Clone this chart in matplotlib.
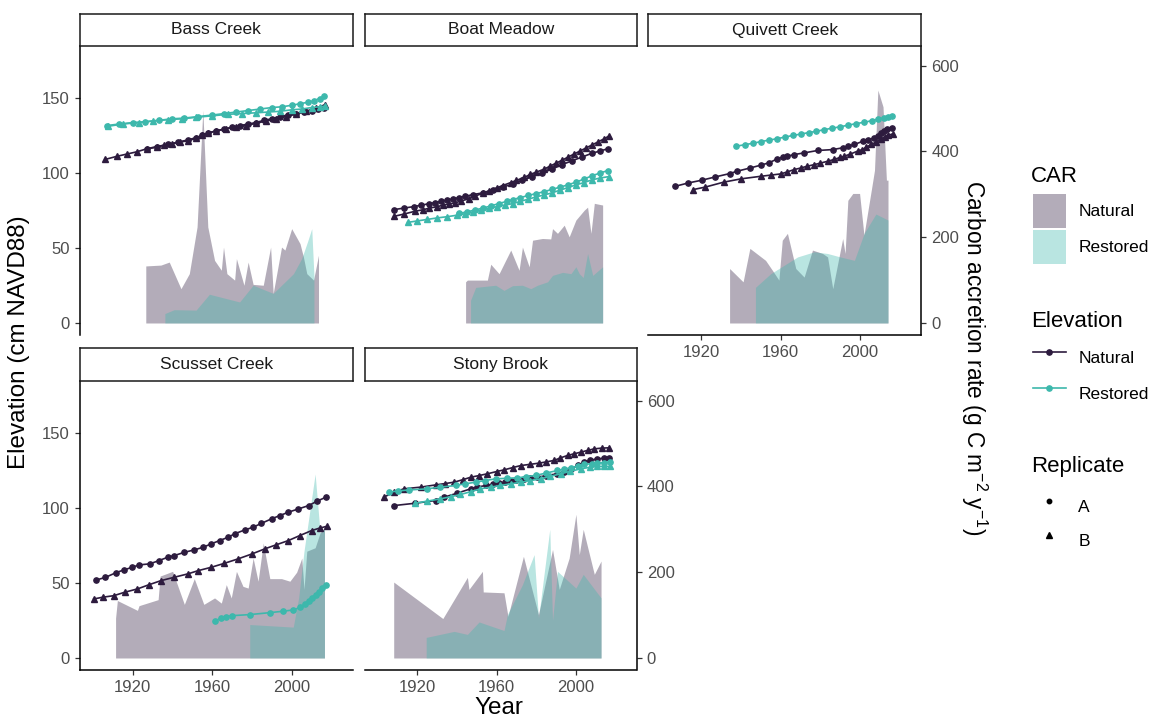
import matplotlib.pyplot as plt
from matplotlib.patches import Patch
from matplotlib.lines import Line2D

# ---- elevation (cm NAVD88), replicate A = circles, B = triangles ----
bass_nat_a_year = [1927, 1932, 1938, 1943, 1948, 1952, 1955, 1958, 1962, 1966, 1970, 1974, 1978,
                   1982, 1986, 1990, 1994, 1998, 2002, 2006, 2010, 2013, 2016.5]
bass_nat_a_elev = [116, 117.5, 119, 120.5, 122, 123.5, 125, 126.5, 128, 129, 130.5, 131.5, 132.5,
                   133.5, 135, 136, 137.5, 138.5, 139.5, 140.5, 141.5, 142.5, 143.5]
bass_nat_b_year = [1906.3, 1912, 1917, 1922, 1927, 1932, 1936, 1940, 1944, 1948, 1952, 1955, 1958,
                   1962, 1967, 1972, 1977, 1982, 1987, 1992, 1997, 2002, 2007, 2012, 2017]
bass_nat_b_elev = [109, 111, 112.5, 114, 116, 117, 118.5, 119.5, 120.5, 121.5, 123, 125, 126.5,
                   128, 129.5, 130.5, 131.5, 133, 134.5, 136, 137.5, 139, 141, 143, 145.5]
bass_res_a_year = [1907, 1913, 1920, 1926, 1933, 1940, 1946, 1953, 1960, 1966, 1972, 1978, 1984,
                   1990, 1995, 2000, 2004, 2008, 2011, 2014, 2016.5]
bass_res_a_elev = [131.5, 132.5, 133.5, 134, 135, 136, 136.5, 137.5, 138.5, 139.5, 140.5, 141.5,
                   142.5, 143.5, 144, 145, 146, 147, 148, 149.5, 151]
bass_res_b_year = [1907.5, 1915, 1923, 1930, 1938, 1945, 1952, 1960, 1968, 1975, 1982, 1988, 1994,
                   2000, 2005, 2010, 2014, 2017]
bass_res_b_elev = [131, 132.5, 133.5, 134.5, 135.5, 136, 137, 138, 139, 139.5, 140, 140.5, 141,
                   142, 142.5, 143.5, 144, 144.5]

boat_nat_a_year = [1908, 1913, 1918, 1922, 1926, 1929, 1932, 1935, 1938, 1941, 1944, 1948, 1953,
                   1958, 1963, 1968, 1973, 1978, 1983, 1988, 1993, 1998, 2003, 2008, 2012, 2016]
boat_nat_a_elev = [75.5, 76.5, 77.5, 78.5, 79.5, 80.2, 81, 82, 82.7, 83.5, 84.4, 85.5, 86.7,
                   88.5, 90.5, 92.5, 95, 97.5, 100, 102.5, 105.5, 108, 110.5, 113, 114.5, 116]
boat_nat_b_year = [1908, 1913, 1919, 1923, 1926, 1930, 1933, 1936, 1939, 1942, 1946, 1949, 1953,
                   1956, 1960, 1963, 1967, 1970, 1974, 1977, 1980, 1984, 1987, 1990, 1993, 1996,
                   1999, 2002, 2005, 2008, 2011, 2014, 2016.5]
boat_nat_b_elev = [71, 72.5, 74.5, 75.5, 76.5, 77.5, 78.5, 79.3, 80, 81.3, 82.7, 84.5, 86.4,
                   88, 90, 91.5, 93.5, 95, 97, 99, 100.5, 102.5, 104.5, 106.5, 108.4, 110.5,
                   112.5, 114.5, 116.5, 118.5, 120.5, 122.5, 124.4]
boat_res_a_year = [1941, 1945, 1949, 1953, 1957, 1961, 1965, 1968, 1972, 1976, 1980, 1984, 1988,
                   1992, 1996, 2000, 2004, 2008, 2012, 2016]
boat_res_a_elev = [73, 74, 75.3, 76.5, 78, 79.5, 81, 82.2, 83.5, 85, 86.2, 87.5, 89, 90.5, 92,
                   93.8, 95.8, 98, 99.8, 101.5]
boat_res_b_year = [1915, 1920, 1925, 1930, 1935, 1940, 1944, 1948, 1952, 1956, 1960, 1964, 1968,
                   1972, 1976, 1980, 1984, 1988, 1992, 1996, 2000, 2004, 2008, 2012, 2016.5]
boat_res_b_elev = [67, 68, 69, 70, 70.8, 71.8, 72.8, 74, 75, 76.3, 77.5, 78.5, 79.5, 81, 82.5,
                   84, 85.3, 86.7, 88.5, 90.2, 92, 93.5, 95.3, 96.5, 97.5]

quiv_nat_a_year = [1906.8, 1913.6, 1920.3, 1927.1, 1934.3, 1938.1, 1944.8, 1949.9, 1954.1, 1958.3,
                   1961, 1963.4, 1966.8, 1971.8, 1978.6, 1986.2, 1991.2, 1994, 1997.1, 2001.4,
                   2004, 2007.2, 2009, 2010.6, 2012, 2013.5, 2016]
quiv_nat_a_elev = [91, 93.3, 95.1, 97.3, 99.5, 101.1, 103.3, 105.1, 106.7, 109.3, 110.5, 111.1,
                   112.2, 113.3, 114.9, 115.5, 116.7, 117.8, 118.9, 121.1, 122, 123.3, 124.5,
                   126.7, 128, 129, 130]
quiv_nat_b_year = [1916.1, 1922, 1931.3, 1940, 1949.9, 1955, 1960, 1963, 1966.8, 1970, 1973,
                   1976.9, 1980, 1983.6, 1987, 1990, 1992, 1995, 1998.8, 2001, 2003, 2005.6,
                   2008, 2010.6, 2012.5, 2014, 2016.5]
quiv_nat_b_elev = [88.9, 90.5, 93.8, 96, 97.7, 98.5, 99.3, 100.5, 102.2, 103.2, 104.3, 105.5,
                   106.5, 107.7, 109, 110.3, 111.1, 112.5, 114.5, 115.5, 117, 119, 120.5, 122.5,
                   124, 125, 126]
quiv_res_a_year = [1937.6, 1942, 1946, 1950, 1954, 1958, 1962, 1966, 1970, 1974, 1978, 1982,
                   1986, 1990, 1994, 1998, 2002, 2006, 2009, 2012, 2014, 2016]
quiv_res_a_elev = [117.7, 118.8, 119.7, 120.8, 121.8, 122.7, 123.8, 124.9, 125.8, 126.8, 127.7,
                   128.8, 129.8, 130.7, 131.8, 132.8, 133.7, 134.8, 135.8, 136.7, 137.4, 138.2]

scus_nat_a_year = [1901.8, 1906.3, 1911.4, 1915.6, 1919.8, 1923.2, 1928.6, 1933.3, 1937.6,
                   1940.9, 1946, 1951, 1955.3, 1959.5, 1963.7, 1968, 1971.3, 1976.4, 1980.6,
                   1984.8, 1989.9, 1994.1, 1998.3, 2003.4, 2008.5, 2012.7, 2017.2]
scus_nat_a_elev = [52, 53.7, 56.7, 58.7, 60.4, 62, 62.7, 64.9, 67.1, 68.2, 70.4, 72, 73.7, 76,
                   78.2, 80.4, 82.7, 85.3, 87.1, 89.7, 92.7, 94.9, 97.1, 99.3, 101.5, 104.4, 107.1]
scus_nat_b_year = [1900.4, 1905, 1910.5, 1916, 1922.4, 1928, 1934.2, 1941, 1947.7, 1953, 1959.5,
                   1966, 1973, 1980, 1986.5, 1992, 1998.3, 2004, 2010.1, 2014, 2017.7]
scus_nat_b_elev = [39.3, 40.5, 41.5, 43.8, 46, 48.7, 51.5, 53.8, 56, 58.2, 60.4, 63, 66, 69.3,
                   72.7, 75.3, 78.2, 81.5, 84.9, 86.5, 87.7]
scus_res_a_year = [1961.5, 1964.6, 1967.1, 1970.1, 1978.9, 1989, 1995.4, 2000.8, 2004.2, 2006.7,
                   2008.5, 2010.1, 2012, 2013.5, 2015.5, 2017.2]
scus_res_a_elev = [24.9, 26.4, 27.5, 28.2, 28.9, 30.2, 31.1, 32, 33.7, 35.9, 38, 40, 42, 43.8,
                   46.5, 48.7]

stony_nat_a_year = [1908, 1919, 1929.2, 1933.4, 1940.1, 1946.9, 1950, 1954.5, 1958, 1961.2,
                    1964, 1967.1, 1970, 1973.9, 1977, 1980.6, 1985, 1990.7, 1994, 1997.5, 2001,
                    2004.2, 2007, 2010.9, 2014, 2016.8]
stony_nat_a_elev = [101.5, 103.1, 104.9, 107.1, 109.8, 112.7, 113.8, 114.9, 115.6, 116.4, 117.1,
                    117.8, 118.5, 119.3, 119.8, 120.4, 121.5, 122.7, 124.2, 126, 128.3, 130.4,
                    131.6, 132.7, 133, 133.3]
stony_nat_b_year = [1902.9, 1908.1, 1913.2, 1921.6, 1929.2, 1934, 1938.5, 1943, 1946.9, 1951,
                    1955.3, 1960, 1963.7, 1968, 1972.2, 1977, 1981.4, 1985, 1989, 1992, 1995.8,
                    1999, 2002.5, 2006, 2009.3, 2013, 2016.8]
stony_nat_b_elev = [107.1, 110.4, 112.7, 113.8, 115.3, 116.2, 117.1, 118.8, 120.4, 121.5, 122.7,
                    124.2, 125.3, 126.8, 128.2, 129, 129.8, 130.6, 131.6, 133.2, 134.9, 136,
                    137.1, 138.3, 139.3, 139.8, 140]
stony_res_a_year = [1905.5, 1910, 1915.6, 1924.9, 1931.6, 1939.2, 1944, 1949.4, 1954, 1959.5,
                    1965, 1970.5, 1975, 1979.7, 1985, 1990.7, 1994, 1997.5, 2001, 2004.2, 2008,
                    2010.9, 2014, 2017.3]
stony_res_a_elev = [110.4, 111.3, 111.9, 112.7, 113.8, 114.9, 116, 117.1, 118.2, 119.3, 119.7,
                    120, 120.8, 121.6, 123.2, 124.9, 125.8, 126.7, 127.8, 128.9, 129.4, 129.8,
                    130.1, 130.4]
stony_res_b_year = [1919, 1925, 1931.6, 1937, 1941.7, 1947, 1951.8, 1957, 1961.9, 1967, 1972.2,
                    1977, 1982.3, 1987, 1992.4, 1997, 2002.5, 2007, 2010.9, 2014, 2017.3]
stony_res_b_elev = [103.1, 104.5, 106, 107.5, 108.9, 110.8, 112.7, 113.8, 114.9, 116, 117.1,
                    118.2, 119.3, 121, 122.7, 124.3, 126, 127, 127.6, 127.6, 127.6]

# ---- carbon accretion rate (g C m-2 y-1) ----
bass_car_nat_year = [1926.6, 1934.2, 1938.4, 1944.3, 1948.5, 1952.4, 1955.3, 1957.8, 1961.2,
                     1964.6, 1965.7, 1967.4, 1971.3, 1972.2, 1976, 1978.1, 1980.6, 1985.7, 1989.4,
                     1990.7, 1994.9, 1996.6, 2000, 2004.2, 2005.9, 2007.6, 2011, 2013.5]
bass_car_nat = [133, 135, 142, 80, 115, 224, 496, 224, 146, 123, 177, 115, 100, 150, 88, 142, 90,
                88, 177, 69, 177, 170, 220, 185, 154, 115, 100, 158]
bass_car_res_year = [1936.2, 1940.9, 1951.9, 1958.6, 1973.8, 1980.6, 1990.7, 2000.9, 2005, 2008,
                     2010.1, 2011.2]
bass_car_res = [22, 31, 30, 67, 49, 88, 69, 115, 150, 190, 220, 110]

boat_car_nat_year = [1944.3, 1945.2, 1955.3, 1957, 1961.2, 1967.1, 1971.3, 1973, 1976.4, 1978.1,
                     1983.1, 1987.3, 1988.2, 1990.7, 1994.1, 1996.6, 2000, 2004.2, 2005.9, 2007.6,
                     2009.3, 2013.5]
boat_car_nat = [96, 100, 100, 137, 115, 170, 123, 177, 131, 193, 197, 196, 220, 209, 228, 201,
                240, 263, 270, 209, 279, 275]
boat_car_res_year = [1946.8, 1949.4, 1959.5, 1963.7, 1968, 1973, 1977.2, 1980.6, 1985.7, 1988.2,
                     1993.3, 1997.5, 2000, 2001.7, 2003.7, 2005.9, 2008.5, 2013.5]
boat_car_res = [53, 83, 88, 76, 87, 88, 80, 88, 96, 111, 118, 115, 131, 115, 106, 162, 111, 131]

quiv_car_nat_year = [1934.3, 1941.1, 1944.5, 1952.4, 1955.8, 1959.1, 1960.8, 1963.4, 1967.6,
                     1971.8, 1976, 1981.1, 1983.6, 1986.2, 1991.2, 1992.4, 1993.8, 1996.3, 1999.7,
                     2001.9, 2005.6, 2007.2, 2008.9, 2011.5, 2013.2, 2014]
quiv_car_nat = [127, 96, 174, 146, 123, 100, 193, 209, 127, 107, 170, 162, 154, 80, 197, 162, 286,
                302, 302, 205, 310, 356, 543, 504, 333, 333]
quiv_car_res_year = [1947.3, 1955, 1968.5, 1976.9, 1983.6, 1990, 1997.1, 2002, 2007.9, 2014]
quiv_car_res = [83, 115, 154, 166, 162, 154, 146, 209, 254, 240]

scus_car_nat_year = [1911.4, 1912.3, 1922.4, 1923.2, 1932.8, 1933.8, 1940.1, 1946, 1951, 1955.8,
                     1961.2, 1964.6, 1967.1, 1969.6, 1972.2, 1975.5, 1978.1, 1980.6, 1983.1,
                     1985.7, 1989, 1994.9, 1999.1, 2002.5, 2005.1, 2006.2, 2007.6, 2011.8, 2014.3,
                     2016.5]
scus_car_nat = [93, 134, 111, 122, 136, 191, 202, 125, 185, 125, 140, 128, 171, 140, 202, 167,
                163, 233, 179, 268, 185, 185, 179, 200, 233, 160, 249, 257, 292, 303]
scus_car_res_year = [1978.9, 2000.8, 2003.5, 2006.2, 2011.8, 2014.3, 2016.5]
scus_car_res = [78, 72, 140, 249, 429, 292, 300]

stony_car_nat_year = [1908, 1932.8, 1945.2, 1946, 1952.8, 1953.2, 1963.7, 1965.7, 1973.5, 1981.1,
                      1988.2, 1991.6, 1996.6, 2000, 2001.7, 2003.7, 2009.3, 2012.7]
stony_car_nat = [177, 92, 188, 160, 202, 154, 152, 97, 237, 101, 253, 160, 233, 335, 241, 300,
                 195, 226]
stony_car_res_year = [1924.4, 1938.5, 1945.2, 1951.1, 1963.7, 1965.4, 1973, 1978.9, 1981.1,
                      1986.8, 1988.2, 1990.7, 2000, 2003.7, 2012.7]
stony_car_res = [48, 62, 55, 84, 64, 101, 171, 241, 93, 300, 88, 202, 163, 195, 140]

NAT = '#2D1B3E'
RES = '#3DB8AC'
FILL_ALPHA = 0.36

# panel grid in pixels: (site, row, col, elevation lines, car areas)
sites = [
    ('Bass Creek', 0, 0,
     [(bass_nat_a_year, bass_nat_a_elev, NAT, 'o'), (bass_nat_b_year, bass_nat_b_elev, NAT, '^'),
      (bass_res_a_year, bass_res_a_elev, RES, 'o'), (bass_res_b_year, bass_res_b_elev, RES, '^')],
     (bass_car_nat_year, bass_car_nat, bass_car_res_year, bass_car_res)),
    ('Boat Meadow', 0, 1,
     [(boat_nat_a_year, boat_nat_a_elev, NAT, 'o'), (boat_nat_b_year, boat_nat_b_elev, NAT, '^'),
      (boat_res_a_year, boat_res_a_elev, RES, 'o'), (boat_res_b_year, boat_res_b_elev, RES, '^')],
     (boat_car_nat_year, boat_car_nat, boat_car_res_year, boat_car_res)),
    ('Quivett Creek', 0, 2,
     [(quiv_nat_a_year, quiv_nat_a_elev, NAT, 'o'), (quiv_nat_b_year, quiv_nat_b_elev, NAT, '^'),
      (quiv_res_a_year, quiv_res_a_elev, RES, 'o')],
     (quiv_car_nat_year, quiv_car_nat, quiv_car_res_year, quiv_car_res)),
    ('Scusset Creek', 1, 0,
     [(scus_nat_a_year, scus_nat_a_elev, NAT, 'o'), (scus_nat_b_year, scus_nat_b_elev, NAT, '^'),
      (scus_res_a_year, scus_res_a_elev, RES, 'o')],
     (scus_car_nat_year, scus_car_nat, scus_car_res_year, scus_car_res)),
    ('Stony Brook', 1, 1,
     [(stony_nat_a_year, stony_nat_a_elev, NAT, 'o'), (stony_nat_b_year, stony_nat_b_elev, NAT, '^'),
      (stony_res_a_year, stony_res_a_elev, RES, 'o'), (stony_res_b_year, stony_res_b_elev, RES, '^')],
     (stony_car_nat_year, stony_car_nat, stony_car_res_year, stony_car_res)),
]

plt.rcParams['font.family'] = ['Liberation Sans', 'DejaVu Sans']
plt.rcParams['mathtext.default'] = 'regular'

W, H = 1151, 719
fig = plt.figure(figsize=(W / 100, H / 100), dpi=100)


def px_axes(x0, y0, x1, y1):
    return fig.add_axes([x0 / W, 1 - y1 / H, (x1 - x0) / W, (y1 - y0) / H])


cols = [(80, 352.5), (365, 636.5), (648.5, 921)]
rows = [(14, 46, 335), (348, 381, 670)]   # strip top, panel top, panel bottom
TICK_C = '#333333'
LAB_C = '#4D4D4D'

for name, r, c, lines, car in sites:
    x0, x1 = cols[c]
    stop, ptop, pbot = rows[r]
    show_left = c == 0
    show_right = (r == 0 and c == 2) or (r == 1 and c == 1)
    show_bottom = r == 1 or c == 2

    car_ax = px_axes(x0, ptop, x1, pbot)
    el_ax = car_ax.twinx()
    car_ax.yaxis.tick_right()
    el_ax.yaxis.tick_left()

    cy_n, cv_n, cy_r, cv_r = car
    car_ax.fill_between(cy_n, 0, cv_n, color=NAT, alpha=FILL_ALPHA, lw=0)
    car_ax.fill_between(cy_r, 0, cv_r, color=RES, alpha=FILL_ALPHA, lw=0)
    for yrs, vals, col, mk in lines:
        el_ax.plot(yrs, vals, color=col, lw=1.2, marker=mk,
                   ms=3.8 if mk == 'o' else 4.3, mec=col, mfc=col)

    el_ax.set_xlim(1893.5, 2030.6)
    el_ax.set_ylim(-8, 184.5)
    car_ax.set_ylim(-8 * 3.5, 184.5 * 3.5)

    for ax in (car_ax, el_ax):
        for s in ax.spines.values():
            s.set_visible(False)
            s.set_linewidth(1.1)
            s.set_color('black')
        ax.tick_params(length=3.8, width=0.9, color=TICK_C, labelcolor=LAB_C,
                       labelsize=12, pad=3.5)

    el_ax.spines['left'].set_visible(show_left)
    el_ax.set_yticks([0, 50, 100, 150])
    el_ax.tick_params(left=show_left, labelleft=show_left, right=False, labelright=False)
    car_ax.spines['right'].set_visible(show_right)
    car_ax.spines['bottom'].set_visible(show_bottom)
    car_ax.set_yticks([0, 200, 400, 600])
    car_ax.tick_params(right=show_right, labelright=show_right, left=False, labelleft=False)
    car_ax.set_xticks([1920, 1960, 2000])
    car_ax.tick_params(axis='x', bottom=show_bottom, labelbottom=show_bottom)

    sax = px_axes(x0, stop, x1, ptop)
    sax.set_xticks([])
    sax.set_yticks([])
    for s in sax.spines.values():
        s.set_linewidth(1.1)
        s.set_color('#1A1A1A')
    sax.text(0.5, 0.5, name, ha='center', va='center', fontsize=12.5,
             color='#1A1A1A', transform=sax.transAxes)

fig.text(499 / W, 1 - 714 / H, 'Year', ha='center', va='baseline', fontsize=17.5)
fig.text(19 / W, 1 - 342 / H, 'Elevation (cm NAVD88)', rotation=90, ha='center',
         va='center', fontsize=17.5)
fig.text(974 / W, 1 - 358 / H, 'Carbon accretion rate (g C m$^{-2}$ y$^{-1}$)',
         rotation=270, ha='center', va='center', fontsize=16.3)

# legends
leg_kw = dict(loc='upper left', frameon=False, borderpad=0, borderaxespad=0,
              handlelength=1.9, handleheight=2.62, handletextpad=0.7, fontsize=12.5)
fig.text(1031 / W, 1 - 182 / H, 'CAR', fontsize=16, va='baseline')
fig.legend([Patch(facecolor=NAT, alpha=FILL_ALPHA, lw=0),
            Patch(facecolor=RES, alpha=FILL_ALPHA, lw=0)],
           ['Natural', 'Restored'], labelspacing=0.11,
           bbox_to_anchor=(1033 / W, 1 - 194 / H), **leg_kw)

fig.text(1031 / W, 1 - 327 / H, 'Elevation', fontsize=16, va='baseline')
fig.legend([Line2D([], [], color=NAT, lw=1.2, marker='o', ms=3.8),
            Line2D([], [], color=RES, lw=1.2, marker='o', ms=3.8)],
           ['Natural', 'Restored'], labelspacing=0.14,
           bbox_to_anchor=(1033 / W, 1 - 341 / H), **leg_kw)

fig.text(1031 / W, 1 - 472 / H, 'Replicate', fontsize=16, va='baseline')
fig.legend([Line2D([], [], ls='none', color='black', marker='o', ms=3.2),
            Line2D([], [], ls='none', color='black', marker='^', ms=3.8)],
           ['A', 'B'], labelspacing=0.02,
           bbox_to_anchor=(1033 / W, 1 - 489.5 / H), **leg_kw)

fig.savefig('out.png', dpi=100)
